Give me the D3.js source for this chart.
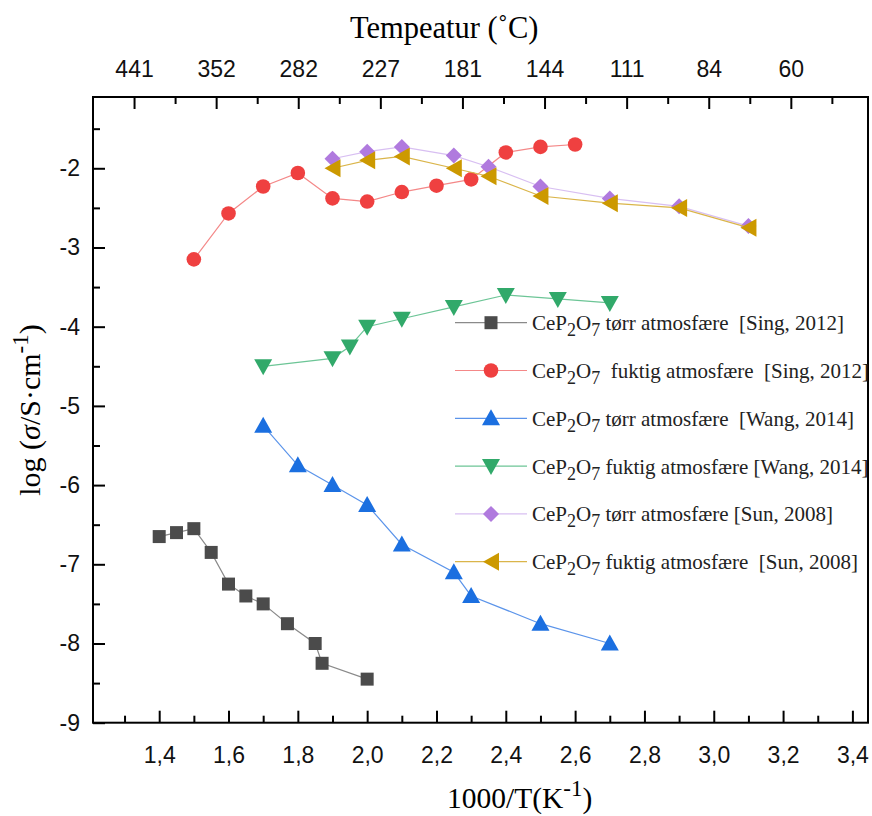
<!DOCTYPE html>
<html>
<head>
<meta charset="utf-8">
<script src="https://cdn.jsdelivr.net/npm/d3@7"></script>
<style>
  body { margin: 0; background: #fff; }
  text { white-space: pre; }
</style>
</head>
<body>
<svg id="chart" width="872" height="816"></svg>
<script>
// data (x = 1000/T, y = log sigma)
var singDryX = [1.40, 1.45, 1.50, 1.55, 1.60, 1.65, 1.70, 1.77, 1.85, 1.87, 2.00];
var singDryY = [-6.65, -6.60, -6.55, -6.85, -7.25, -7.40, -7.50, -7.75, -8.00, -8.25, -8.45];
var singWetX = [1.5, 1.6, 1.7, 1.8, 1.9, 2.0, 2.1, 2.2, 2.3, 2.4, 2.5, 2.6];
var singWetY = [-3.15, -2.57, -2.23, -2.06, -2.38, -2.42, -2.30, -2.22, -2.14, -1.80, -1.73, -1.70];
var wangDryX = [1.7, 1.8, 1.9, 2.0, 2.1, 2.25, 2.3, 2.5, 2.7];
var wangDryY = [-5.25, -5.75, -6.0, -6.25, -6.75, -7.1, -7.4, -7.75, -8.0];
var wangWetX = [1.7, 1.9, 1.95, 2.0, 2.1, 2.25, 2.4, 2.55, 2.7];
var wangWetY = [-4.5, -4.4, -4.25, -4.0, -3.9, -3.75, -3.6, -3.65, -3.7];
var sunDryX = [1.9, 2.0, 2.1, 2.25, 2.35, 2.5, 2.7, 2.9, 3.1];
var sunDryY = [-1.88, -1.79, -1.73, -1.84, -1.98, -2.23, -2.38, -2.48, -2.73];
var sunWetX = [1.9, 2.0, 2.1, 2.25, 2.35, 2.5, 2.7, 2.9, 3.1];
var sunWetY = [-2.0, -1.9, -1.85, -2.0, -2.1, -2.35, -2.44, -2.5, -2.75];

var xTicks = [1.4, 1.6, 1.8, 2.0, 2.2, 2.4, 2.6, 2.8, 3.0, 3.2, 3.4];
var xMinor = [1.3, 1.5, 1.7, 1.9, 2.1, 2.3, 2.5, 2.7, 2.9, 3.1, 3.3];
var yTicks = [-9, -8, -7, -6, -5, -4, -3, -2];
var yMinor = [-8.5, -7.5, -6.5, -5.5, -4.5, -3.5, -2.5, -1.5];
var topLabels = ["441", "352", "282", "227", "181", "144", "111", "84", "60"];

var legendNames = [
  [" tørr atmosfære  [Sing, 2012]", "singDry"],
  ["  fuktig atmosfære  [Sing, 2012]", "singWet"],
  [" tørr atmosfære  [Wang, 2014]", "wangDry"],
  [" fuktig atmosfære [Wang, 2014]", "wangWet"],
  [" tørr atmosfære [Sun, 2008]", "sunDry"],
  [" fuktig atmosfære  [Sun, 2008]", "sunWet"]
];

var series = [
  {key: "singDry", xs: singDryX, ys: singDryY, fill: "#4b4b4b", line: "#8a8a8a", shape: "square"},
  {key: "singWet", xs: singWetX, ys: singWetY, fill: "#ef4040", line: "#f48888", shape: "circle"},
  {key: "wangDry", xs: wangDryX, ys: wangDryY, fill: "#1b6fe0", line: "#5b94ea", shape: "up"},
  {key: "wangWet", xs: wangWetX, ys: wangWetY, fill: "#31a96a", line: "#6cc596", shape: "down"},
  {key: "sunDry", xs: sunDryX, ys: sunDryY, fill: "#b07ade", line: "#d8bff2", shape: "diamond"},
  {key: "sunWet", xs: sunWetX, ys: sunWetY, fill: "#cc9900", line: "#dab54a", shape: "left"}
];

var L = 93, R = 868, T = 97, B = 722.7;
var svg = d3.select("svg#chart");

var x = d3.scaleLinear().domain([1.209, 3.445]).range([L, R]);
var y = d3.scaleLinear().domain([-9, -1.1]).range([B, T]);
var xTop = d3.scaleLinear().domain([-0.5, 8.94]).range([L, R]);

function shapePath(s){
  if(s=="square") return "M-6.5,-6.5H6.5V6.5H-6.5Z";
  if(s=="circle") return "M-7.3,0A7.3,7.3 0 1,0 7.3,0A7.3,7.3 0 1,0 -7.3,0Z";
  if(s=="up") return "M0,-9L9,7L-9,7Z";
  if(s=="down") return "M0,9L9,-7L-9,-7Z";
  if(s=="diamond") return "M0,-8L8,0L0,8L-8,0Z";
  if(s=="left") return "M-8,0L8,-9L8,9Z";
}

// frame
svg.append("rect")
  .attr("x", L).attr("y", T)
  .attr("width", R-L).attr("height", B-T)
  .attr("fill", "none").attr("stroke", "black").attr("stroke-width", 2);

// bottom axis, ticks inside
var bottomAxis = svg.append("g").attr("transform", "translate(0," + B + ")")
  .call(d3.axisBottom(x).tickValues(xTicks).tickSizeInner(-12).tickSizeOuter(0)
    .tickFormat(function(d){ return d3.format(".1f")(d).replace(".", ","); }));
bottomAxis.selectAll("text").attr("y", 24);
svg.append("g").attr("transform", "translate(0," + B + ")")
  .call(d3.axisBottom(x).tickValues(xMinor).tickSizeInner(-7).tickSizeOuter(0).tickFormat(""));

// left axis
var leftAxis = svg.append("g").attr("transform", "translate(" + L + ",0)")
  .call(d3.axisLeft(y).tickValues(yTicks).tickSizeInner(-12).tickSizeOuter(0)
    .tickFormat(function(d){ return d3.format("d")(d).replace("−", "-"); }));
leftAxis.selectAll("text").attr("x", -13);
svg.append("g").attr("transform", "translate(" + L + ",0)")
  .call(d3.axisLeft(y).tickValues(yMinor).tickSizeInner(-7).tickSizeOuter(0).tickFormat(""));

// top axis (temperature)
var topAxis = svg.append("g").attr("transform", "translate(0," + T + ")")
  .call(d3.axisTop(xTop).tickValues(d3.range(0, 9)).tickSizeInner(-12).tickSizeOuter(0)
    .tickFormat(function(d){ return topLabels[d]; }));
topAxis.selectAll("text").attr("y", -20);
svg.append("g").attr("transform", "translate(0," + T + ")")
  .call(d3.axisTop(xTop).tickValues(d3.range(0.5, 9, 1)).tickSizeInner(-7).tickSizeOuter(0).tickFormat(""));

svg.selectAll(".domain").remove();
svg.selectAll(".tick line").attr("stroke", "black").attr("stroke-width", 2);
svg.selectAll(".tick text")
  .attr("font-family", "Liberation Sans, Arial, sans-serif")
  .attr("font-size", 23)
  .attr("fill", "#111");

// axis titles
svg.append("text")
  .attr("x", 350).attr("y", 38)
  .attr("font-family", "Liberation Serif, Times New Roman, serif")
  .attr("font-size", 30.5)
  .text("Tempeatur (˚C)");

var xt = svg.append("text")
  .attr("x", 447).attr("y", 808)
  .attr("font-family", "Liberation Serif, Times New Roman, serif")
  .attr("font-size", 29.5);
xt.append("tspan").text("1000/T(K");
xt.append("tspan").attr("dy", -12).attr("font-size", 23).text("-1");
xt.append("tspan").attr("dy", 12).text(")");

var yt = svg.append("text")
  .attr("transform", "translate(40,410) rotate(-90)")
  .attr("text-anchor", "middle")
  .attr("font-family", "Liberation Serif, Times New Roman, serif")
  .attr("font-size", 30);
yt.append("tspan").text("log (");
yt.append("tspan").attr("font-style", "italic").text("σ");
yt.append("tspan").text("/S·cm");
yt.append("tspan").attr("dy", -12).attr("font-size", 23).text("-1");
yt.append("tspan").attr("dy", 12).text(")");

// series
var line = d3.line()
  .x(function(d){ return x(d[0]); })
  .y(function(d){ return y(d[1]); });

series.forEach(function(s){
  var pts = s.xs.map(function(v, i){ return [v, s.ys[i]]; });
  svg.append("path")
    .datum(pts)
    .attr("d", line)
    .attr("fill", "none")
    .attr("stroke", s.line)
    .attr("stroke-width", 1.2);
  svg.selectAll("path.m-" + s.key)
    .data(pts).enter()
    .append("path")
    .attr("class", "m-" + s.key)
    .attr("transform", function(d){ return "translate(" + x(d[0]) + "," + y(d[1]) + ")"; })
    .attr("d", shapePath(s.shape))
    .attr("fill", s.fill);
});

// legend
var lg = svg.append("g");
legendNames.forEach(function(n, i){
  var s = series.filter(function(d){ return d.key == n[1]; })[0];
  var cy = 322.7 + i*47.8;
  lg.append("line")
    .attr("x1", 455).attr("x2", 527)
    .attr("y1", cy).attr("y2", cy)
    .attr("stroke", s.line).attr("stroke-width", 1.2);
  lg.append("path")
    .attr("transform", "translate(491," + cy + ")")
    .attr("d", shapePath(s.shape))
    .attr("fill", s.fill);
  var t = lg.append("text")
    .attr("x", 532).attr("y", cy + 7.5)
    .attr("font-family", "Liberation Serif, Times New Roman, serif")
    .attr("font-size", 21)
    .attr("fill", "#222");
  t.append("tspan").text("CeP");
  t.append("tspan").attr("dy", 6).attr("font-size", 18).text("2");
  t.append("tspan").attr("dy", -6).text("O");
  t.append("tspan").attr("dy", 6).attr("font-size", 18).text("7");
  t.append("tspan").attr("dy", -6).text(n[0]);
});
</script>
</body>
</html>
